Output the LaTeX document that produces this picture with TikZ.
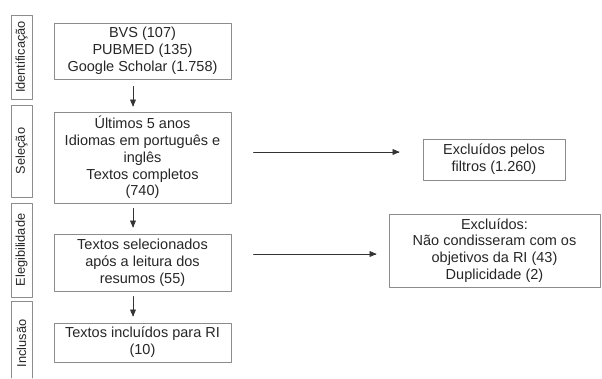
\documentclass[tikz,border=0pt]{standalone}
\usepackage{fontspec}
\setmainfont{Liberation Sans}
\usetikzlibrary{arrows}
\usetikzlibrary{positioning}

\begin{document}
\begin{tikzpicture}[line cap=round,line join=round,>=triangle 45,x=1pt,y=1pt]
\tikzset{caixa/.style={draw=gray!90,line width=0.8pt,align=center,inner sep=0pt,text=black!85,font=\fontsize{14.5}{16.8}\selectfont},
fase/.style={draw=gray!90,line width=0.8pt,inner sep=0pt,rotate=90,minimum height=21,text=black!85,font=\fontsize{12.8}{14}\selectfont},
seta/.style={->,line width=0.6pt,color=black!80}}
\useasboundingbox (0,0) rectangle (602,378);
% fases
\node[fase,minimum width=84] (identificacao) at (21.5,321) {Identificação};
\node[fase,minimum width=92] (selecao) at (21.5,227) {Seleção};
\node[fase,minimum width=94] (elegibilidade) at (21.5,128) {Elegibilidade};
\node[fase,draw=none] (inclusao) at (21.5,34.5) {Inclusão};
\draw[draw=gray!90,line width=0.8pt] (11,0) -- (11,77) -- (32,77) -- (32,0);
% caixas
\node[caixa,minimum width=177,minimum height=56] (busca) at (142.5,327) {BVS (107)\\PUBMED (135)\\Google Scholar (1.758)};
\node[caixa,minimum width=177,minimum height=91] (filtros) at (142.5,220.5) {Últimos 5 anos\\Idiomas em português e\\inglês\\Textos completos\\(740)};
\node[caixa,minimum width=177,minimum height=57] (resumos) at (142.5,115.5) {Textos selecionados\\após a leitura dos\\resumos (55)};
\node[caixa,minimum width=177,minimum height=39] (incluidos) at (142.5,35.5) {Textos incluídos para RI\\(10)};
\node[caixa,minimum width=142,minimum height=41] (excluidosA) at (494,218.5) {Excluídos pelos\\filtros (1.260)};
\node[caixa,minimum width=211,minimum height=73] (excluidosB) at (494.5,127.5) {Excluídos:\\Não condisseram com os\\objetivos da RI (43)\\Duplicidade (2)};
% setas
\draw[seta] ([xshift=-9.5pt,yshift=-7pt]busca.south) -- ([xshift=-9.5pt,yshift=5pt]filtros.north);
\draw[seta] ([xshift=-9.5pt,yshift=-5pt]filtros.south) -- ([xshift=-9.5pt,yshift=6pt]resumos.north);
\draw[seta] ([xshift=-9.5pt,yshift=-5pt]resumos.south) -- ([xshift=-9.5pt,yshift=6pt]incluidos.north);
\draw[seta] ([xshift=22pt,yshift=5.5pt]filtros.east) -- ([xshift=-23pt,yshift=7.5pt]excluidosA.west);
\draw[seta] ([xshift=22pt,yshift=8.5pt]resumos.east) -- ([xshift=-12pt,yshift=-3.5pt]excluidosB.west);
\end{tikzpicture}
\end{document}
